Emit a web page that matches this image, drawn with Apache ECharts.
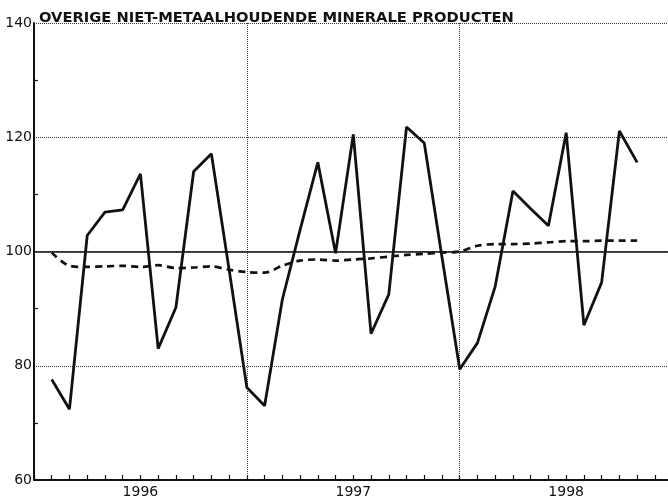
<!DOCTYPE html>
<html>
<head>
<meta charset="utf-8">
<script src="https://cdn.jsdelivr.net/npm/echarts@6/dist/echarts.min.js"></script>
<style>
  html, body { margin: 0; padding: 0; background: #fff; }
  #main { width: 668px; height: 503px; }
</style>
</head>
<body>
<div id="main"></div>
<script>
// maanden vanaf jan 1996 (punt i ligt op maandgrens i + 1)
const years = ['1996', '1997', '1998']
const yTicks = [60, 80, 100, 120, 140]
// index, maandcijfers
const indexValues = [
  77.6, 72.4, 102.8, 106.9, 107.3, 113.6, 83.0, 90.2, 114.0, 117.1, 96.8, 76.2,
  73.0, 91.6, 103.8, 115.6, 99.7, 120.5, 85.6, 92.5, 121.8, 119.0, 99.0, 79.4,
  84.0, 93.9, 110.6, 107.5, 104.5, 120.8, 87.1, 94.6, 121.1, 115.6,
]
// trend (gestippeld)
const trendValues = [
  99.8, 97.5, 97.3, 97.4, 97.5, 97.3, 97.6, 97.1, 97.2, 97.4, 96.8, 96.4,
  96.3, 97.5, 98.4, 98.6, 98.4, 98.6, 98.8, 99.1, 99.4, 99.6, 99.8, 100.0,
  101.0, 101.3, 101.3, 101.4, 101.6, 101.8, 101.8, 101.9, 101.9, 101.9,
]
const baseLine = 100

const chart = echarts.init(document.getElementById('main'))
const xMax = 35.74
const font = 'DejaVu Sans, sans-serif'

const toPoints = (arr) => arr.map((v, i) => [i + 1, v])

const option = {
  animation: false,
  backgroundColor: '#fff',
  title: {
    text: 'OVERIGE NIET-METAALHOUDENDE MINERALE PRODUCTEN',
    left: 34,
    top: 6,
    textStyle: {
      fontFamily: font,
      fontSize: 14.7,
      fontWeight: 'bold',
      color: '#111',
    },
  },
  grid: { left: 34, right: 0, top: 23, bottom: 23 },
  xAxis: [
    {
      type: 'value',
      min: 0,
      max: xMax,
      interval: 1,
      axisLine: { show: true, lineStyle: { color: '#111', width: 2 } },
      axisTick: { show: true, inside: true, length: 5, lineStyle: { color: '#111', width: 1.2 } },
      axisLabel: {
        color: '#111',
        fontFamily: font,
        fontSize: 14,
        margin: 5,
        showMaxLabel: false,
        formatter: (v) => {
          const k = Math.round(v)
          if (Math.abs(v - k) < 1e-6 && k % 12 === 6) return years[(k - 6) / 12] || ''
          return ''
        },
      },
      splitLine: { show: false },
    },
    {
      type: 'value',
      min: 0,
      max: xMax,
      interval: 12,
      position: 'bottom',
      axisLine: { show: false },
      axisTick: { show: false },
      axisLabel: { show: false },
      splitLine: { show: true, lineStyle: { color: '#333', type: [1, 1], width: 1 } },
    },
  ],
  yAxis: {
    type: 'value',
    min: yTicks[0],
    max: yTicks[yTicks.length - 1],
    interval: 20,
    axisLine: { show: true, lineStyle: { color: '#111', width: 2 } },
    axisTick: { show: false, inside: true },
    minorTick: { show: true, splitNumber: 2, length: 4, lineStyle: { color: '#111', width: 1.2 } },
    axisLabel: {
      color: '#111',
      fontFamily: font,
      fontSize: 14,
      margin: 2,
    },
    splitLine: { show: true, lineStyle: { color: '#333', type: [1, 1], width: 1 } },
  },
  series: [
    {
      name: 'trend',
      type: 'line',
      data: toPoints(trendValues),
      symbol: 'none',
      smooth: 0.3,
      lineStyle: { color: '#111', width: 2.7, type: [7, 5] },
      markLine: {
        silent: true,
        symbol: 'none',
        label: { show: false },
        lineStyle: { color: '#111', width: 1.5, type: 'solid' },
        data: [{ yAxis: baseLine }],
      },
      z: 3,
    },
    {
      name: 'index',
      type: 'line',
      data: toPoints(indexValues),
      symbol: 'none',
      lineStyle: { color: '#111', width: 2.8 },
      z: 4,
    },
  ],
}

chart.setOption(option)
</script>
</body>
</html>
